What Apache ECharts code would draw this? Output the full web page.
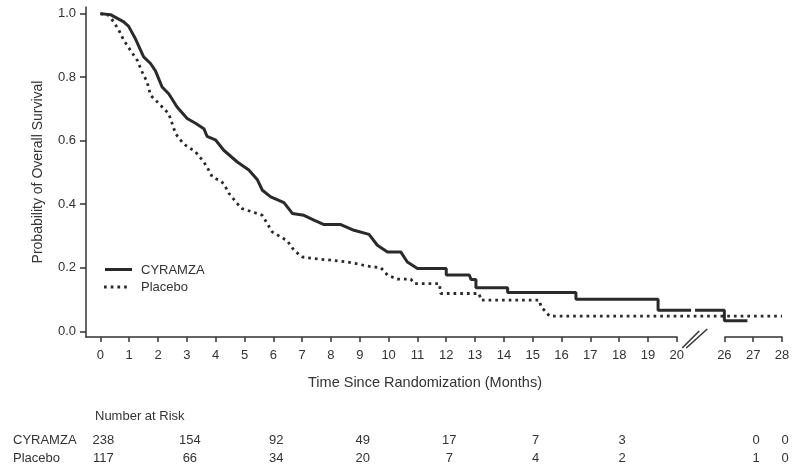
<!DOCTYPE html>
<html>
<head>
<meta charset="utf-8">
<script src="https://cdn.jsdelivr.net/npm/echarts@6/dist/echarts.min.js"></script>
<style>
  html, body { margin: 0; padding: 0; background: #fff; }
  #chart { width: 803px; height: 470px; }
</style>
</head>
<body>
<div id="chart"></div>
<script>
// x ticks shown on the broken time axis (months)
const xTicks = [0, 1, 2, 3, 4, 5, 6, 7, 8, 9, 10, 11, 12, 13, 14, 15, 16, 17, 18, 19, 20, 26, 27, 28];
const yTicks = [0, 0.2, 0.4, 0.6, 0.8, 1.0];

// Kaplan-Meier curves: [month, survival]
// dense early part traced as a path, later steps given by their corners
const cyramza = [
  [0, 1.0], [0.35, 0.997], [0.81, 0.974], [0.98, 0.96], [1.22, 0.92], [1.5, 0.864],
  [1.74, 0.843], [1.91, 0.82], [2.14, 0.769], [2.37, 0.748], [2.66, 0.706], [3.01, 0.67],
  [3.3, 0.655], [3.59, 0.638], [3.7, 0.614], [3.99, 0.603], [4.28, 0.57], [4.75, 0.533],
  [5.15, 0.508], [5.44, 0.478], [5.62, 0.444], [5.91, 0.423], [6.37, 0.405], [6.66, 0.371],
  [7.06, 0.365], [7.41, 0.35], [7.76, 0.336], [8.34, 0.336], [8.8, 0.318], [9.32, 0.305],
  [9.61, 0.271], [9.96, 0.25], [10.42, 0.25], [10.65, 0.218], [11.0, 0.198],
  [12.0, 0.198], [12.0, 0.177], [12.8, 0.177], [12.86, 0.163], [13.03, 0.163],
  [13.03, 0.137], [14.13, 0.137], [14.13, 0.122], [16.5, 0.122], [16.5, 0.101],
  [19.35, 0.101], [19.35, 0.066], [21.8, 0.066], [21.8, null], [22.3, 0.066],
  [26.0, 0.066], [26.0, 0.033], [26.8, 0.033]
];
const placebo = [
  [0, 1.0], [0.29, 0.995], [0.46, 0.974], [0.64, 0.948], [0.81, 0.916], [1.04, 0.885],
  [1.28, 0.853], [1.45, 0.816], [1.62, 0.785], [1.74, 0.743], [2.03, 0.717], [2.37, 0.685],
  [2.49, 0.654], [2.61, 0.622], [2.84, 0.595], [2.95, 0.586], [3.3, 0.565], [3.59, 0.533],
  [3.76, 0.507], [3.88, 0.486], [4.11, 0.476], [4.28, 0.465], [4.46, 0.434], [4.75, 0.402],
  [4.92, 0.386], [5.44, 0.371], [5.62, 0.365], [5.79, 0.339], [5.96, 0.313], [6.48, 0.285],
  [6.72, 0.255], [7.0, 0.234], [7.41, 0.229], [7.99, 0.224], [8.57, 0.218], [9.03, 0.21],
  [9.27, 0.205], [9.73, 0.2], [9.96, 0.177], [10.3, 0.164], [10.77, 0.164], [10.89, 0.15],
  [11.76, 0.15], [11.81, 0.119], [13.14, 0.119], [13.2, 0.098], [15.23, 0.098],
  [15.29, 0.077], [15.45, 0.062], [15.58, 0.048], [28, 0.048]
];

// number at risk table
const riskTimes = [0, 3, 6, 9, 12, 15, 18, 27, 28];
const riskCyramza = [238, 154, 92, 49, 17, 7, 3, 0, 0];
const riskPlacebo = [117, 66, 34, 20, 7, 4, 2, 1, 0];

const FONT = '"Liberation Sans", Arial, sans-serif';
const INK = '#2a2a2a';
const DOTS = [2.7, 4];

const chart = echarts.init(document.getElementById('chart'));

chart.setOption({
  animation: false,
  backgroundColor: '#fff',
  textStyle: { fontFamily: FONT },
  grid: { left: 86, right: 21, top: 7, bottom: 133 },
  xAxis: {
    type: 'value',
    min: -0.5,
    max: 28,
    breaks: [{ start: 20, end: 26, gap: 1.65 }],
    breakArea: { show: false },
    name: 'Time Since Randomization (Months)',
    nameLocation: 'middle',
    nameGap: 38,
    nameTextStyle: { fontSize: 14.5, color: '#333', padding: [0, 18, 0, 0] },
    axisLine: { show: true, onZero: false, lineStyle: { color: '#333', width: 1.5 } },
    axisTick: { show: true, length: 5, customValues: xTicks, lineStyle: { color: '#333', width: 1.5 } },
    axisLabel: { customValues: xTicks, fontSize: 13, color: '#333', margin: 12 },
    splitLine: { show: false }
  },
  yAxis: {
    type: 'value',
    min: -0.018,
    max: 1.021,
    name: 'Probability of Overall Survival',
    nameLocation: 'middle',
    nameGap: 41,
    nameTextStyle: { fontSize: 14, color: '#333' },
    axisLine: { show: true, onZero: false, lineStyle: { color: '#333', width: 1.5 } },
    axisTick: { show: true, length: 6, customValues: yTicks, lineStyle: { color: '#333', width: 1.5 } },
    axisLabel: {
      customValues: yTicks, fontSize: 13, color: '#333', margin: 10,
      formatter: v => v.toFixed(1)
    },
    splitLine: { show: false }
  },
  series: [
    {
      name: 'CYRAMZA',
      type: 'line',
      symbol: 'none',
      connectNulls: false,
      data: cyramza,
      lineStyle: { color: INK, width: 3 }
    },
    {
      name: 'Placebo',
      type: 'line',
      symbol: 'none',
      data: placebo,
      lineStyle: { color: INK, width: 2.8, type: DOTS }
    }
  ]
});

// break marks, legend and the number-at-risk table
const toPx = (x, y) => chart.convertToPixel({ xAxisIndex: 0, yAxisIndex: 0 }, [x, y]);
const brk = toPx(22.2, -0.018);
const cx = brk[0], cy = brk[1] + 2;
const txt = (x, y, s, align) => ({
  type: 'text', x: x, y: y,
  style: { text: s, font: '13px ' + FONT, fill: '#333', align: align || 'left', verticalAlign: 'middle' }
});
const elements = [
  { type: 'line', shape: { x1: cx - 12, y1: cy + 9, x2: cx + 5, y2: cy - 8 }, style: { stroke: '#333', lineWidth: 1.5 } },
  { type: 'line', shape: { x1: cx - 8, y1: cy + 9, x2: cx + 13, y2: cy - 10 }, style: { stroke: '#333', lineWidth: 1.5 } },
  // legend
  { type: 'line', shape: { x1: 105, y1: 269.5, x2: 132, y2: 269.5 }, style: { stroke: INK, lineWidth: 3 } },
  { type: 'line', shape: { x1: 104, y1: 287, x2: 130, y2: 287 }, style: { stroke: INK, lineWidth: 2.8, lineDash: DOTS } },
  txt(141, 270, 'CYRAMZA'),
  txt(141, 287.5, 'Placebo'),
  // at-risk table
  txt(95, 416, 'Number at Risk'),
  txt(13, 440, 'CYRAMZA'),
  txt(13, 458, 'Placebo')
];
riskTimes.forEach((t, i) => {
  const px = toPx(t, 0)[0] + 3;
  elements.push(txt(px, 440, String(riskCyramza[i]), 'center'));
  elements.push(txt(px, 458, String(riskPlacebo[i]), 'center'));
});
chart.setOption({ graphic: { elements: elements } });
</script>
</body>
</html>
